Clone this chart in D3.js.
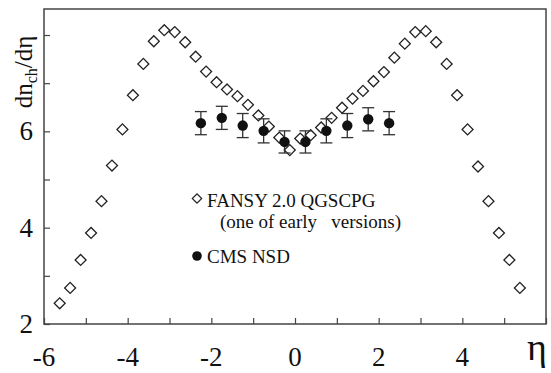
<!DOCTYPE html>
<html>
<head>
<meta charset="utf-8">
<script src="https://cdn.jsdelivr.net/npm/d3@7"></script>
</head>
<body style="margin:0">
<div id="chart"></div>
<script>
// FANSY 2.0 QGSCPG (open diamonds)
const fansyEta = [-5.625, -5.375, -5.125, -4.875, -4.625, -4.375, -4.125, -3.875, -3.625, -3.375,
  -3.125, -2.875, -2.625, -2.375, -2.125, -1.875, -1.625, -1.375, -1.125, -0.875, -0.625, -0.375,
  -0.125, 0.125, 0.375, 0.625, 0.875, 1.125, 1.375, 1.625, 1.875, 2.125, 2.375, 2.625, 2.875,
  3.125, 3.375, 3.625, 3.875, 4.125, 4.375, 4.625, 4.875, 5.125, 5.375];
const fansyVal = [2.43, 2.75, 3.33, 3.89, 4.55, 5.29, 6.04, 6.75, 7.40, 7.87,
  8.10, 8.06, 7.85, 7.55, 7.24, 7.02, 6.87, 6.73, 6.55, 6.33, 6.10, 5.87,
  5.61, 5.85, 5.92, 6.08, 6.28, 6.49, 6.68, 6.84, 7.04, 7.23, 7.53, 7.82, 8.06,
  8.08, 7.85, 7.40, 6.75, 6.04, 5.27, 4.55, 3.89, 3.33, 2.75];

// CMS NSD (filled circles with errors)
const cmsEta = [-2.25, -1.75, -1.25, -0.75, -0.25, 0.25, 0.75, 1.25, 1.75, 2.25];
const cmsVal = [6.17, 6.28, 6.12, 6.01, 5.78, 5.78, 6.01, 6.12, 6.25, 6.17];
const cmsErr = [0.24, 0.24, 0.25, 0.25, 0.23, 0.23, 0.25, 0.25, 0.24, 0.24];

const xTicks = [-6, -5, -4, -3, -2, -1, 0, 1, 2, 3, 4, 5, 6];
const xTickLabels = ["-6", "-4", "-2", "0", "2", "4"];
const yTicks = [2, 3, 4, 5, 6, 7, 8];
const yTickLabels = ["2", "4", "6"];

const width = 551, height = 373;
const margin = { top: 9, right: 5, bottom: 49, left: 44 };

const svg = d3.select("#chart").append("svg")
  .attr("width", width)
  .attr("height", height);

const x = d3.scaleLinear().domain([-6, 6]).range([margin.left, width - margin.right]);
const y = d3.scaleLinear().domain([2, 8.54]).range([height - margin.bottom, margin.top]);

// text helper, serif like the original figure
function label(sel) {
  return sel.attr("font-family", "Liberation Serif").attr("fill", "#111");
}

// frame
svg.append("rect")
  .attr("x", x(-6)).attr("y", y(8.54))
  .attr("width", x(6) - x(-6)).attr("height", y(2) - y(8.54))
  .attr("fill", "none").attr("stroke", "#444").attr("stroke-width", 1.5);

// x axis, ticks inward
const xAxis = svg.append("g")
  .attr("transform", `translate(0,${y(2)})`)
  .call(d3.axisTop(x).tickValues(xTicks).tickSize(6).tickFormat(""));
xAxis.select(".domain").remove();
xAxis.selectAll("line").attr("stroke", "#444").attr("stroke-width", 1.2);

svg.selectAll("text.xlab").data(xTickLabels).join("text")
  .attr("class", "xlab")
  .attr("x", d => x(+d))
  .attr("y", 366)
  .attr("text-anchor", "middle")
  .attr("font-size", 27)
  .call(label)
  .text(d => d);

// y axis, ticks inward
const yAxis = svg.append("g")
  .attr("transform", `translate(${x(-6)},0)`)
  .call(d3.axisRight(y).tickValues(yTicks).tickSize(6).tickFormat(""));
yAxis.select(".domain").remove();
yAxis.selectAll("line").attr("stroke", "#444").attr("stroke-width", 1.2);

svg.selectAll("text.ylab").data(yTickLabels).join("text")
  .attr("class", "ylab")
  .attr("x", 33)
  .attr("y", d => y(+d) + 9)
  .attr("text-anchor", "end")
  .attr("font-size", 27)
  .call(label)
  .text(d => d);

// axis titles
const yt = svg.append("text")
  .attr("transform", "translate(32,72) rotate(-90)")
  .attr("text-anchor", "middle")
  .attr("font-size", 25)
  .call(label);
yt.append("tspan").text("dn");
yt.append("tspan").attr("dy", 5).attr("font-size", 16).text("ch");
yt.append("tspan").attr("dy", -5).text("/dη");

svg.append("text")
  .attr("x", 537).attr("y", 360)
  .attr("text-anchor", "middle")
  .attr("font-size", 38)
  .call(label)
  .text("η");

// diamonds
const diamond = d3.symbol().type(d3.symbolSquare).size(60);
svg.selectAll("path.fansy").data(fansyEta).join("path")
  .attr("class", "fansy")
  .attr("d", diamond)
  .attr("transform", (d, i) => `translate(${x(d)},${y(fansyVal[i])}) rotate(45)`)
  .attr("fill", "none")
  .attr("stroke", "#222")
  .attr("stroke-width", 1.3);

// CMS error bars
const err = svg.append("g").attr("stroke", "#333").attr("stroke-width", 1.3);
err.selectAll("line.ev").data(cmsEta).join("line").attr("class", "ev")
  .attr("x1", d => x(d)).attr("x2", d => x(d))
  .attr("y1", (d, i) => y(cmsVal[i] - cmsErr[i]))
  .attr("y2", (d, i) => y(cmsVal[i] + cmsErr[i]));
err.selectAll("line.ct").data(cmsEta).join("line").attr("class", "ct")
  .attr("x1", d => x(d) - 6).attr("x2", d => x(d) + 6)
  .attr("y1", (d, i) => y(cmsVal[i] + cmsErr[i]))
  .attr("y2", (d, i) => y(cmsVal[i] + cmsErr[i]));
err.selectAll("line.cb").data(cmsEta).join("line").attr("class", "cb")
  .attr("x1", d => x(d) - 6).attr("x2", d => x(d) + 6)
  .attr("y1", (d, i) => y(cmsVal[i] - cmsErr[i]))
  .attr("y2", (d, i) => y(cmsVal[i] - cmsErr[i]));

svg.selectAll("circle.cms").data(cmsEta).join("circle")
  .attr("class", "cms")
  .attr("cx", d => x(d))
  .attr("cy", (d, i) => y(cmsVal[i]))
  .attr("r", 5.2)
  .attr("fill", "#111");

// legend
const lg = svg.append("g");
lg.append("path")
  .attr("d", d3.symbol().type(d3.symbolSquare).size(44))
  .attr("transform", "translate(197,198.5) rotate(45)")
  .attr("fill", "none").attr("stroke", "#222").attr("stroke-width", 1.2);
lg.append("text").attr("x", 207).attr("y", 206.5)
  .attr("font-size", 19).call(label)
  .text("FANSY 2.0 QGSCPG");
lg.append("text").attr("x", 220).attr("y", 228)
  .attr("font-size", 19).call(label)
  .style("white-space", "pre")
  .text("(one of early   versions)");
lg.append("circle").attr("cx", 197).attr("cy", 256).attr("r", 4.8).attr("fill", "#111");
lg.append("text").attr("x", 207).attr("y", 262.5)
  .attr("font-size", 19).call(label)
  .text("CMS NSD");
</script>
</body>
</html>
